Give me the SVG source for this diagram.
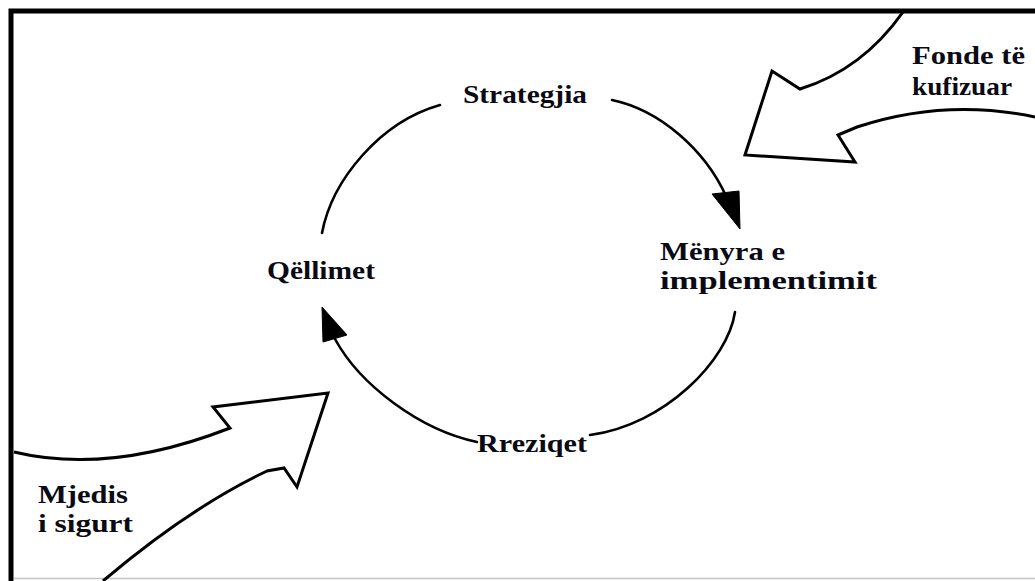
<svg xmlns="http://www.w3.org/2000/svg" width="1035" height="581" viewBox="0 0 1035 581">
<style>
.lbl{font-family:"Liberation Serif","Times New Roman",serif;font-weight:bold;font-size:25px;fill:#0a0a14}
.arc{fill:none;stroke:#000;stroke-width:2.6;stroke-linecap:round}
.big{fill:none;stroke:#000;stroke-width:3;stroke-linejoin:miter}
.head{fill:#000;stroke:#000;stroke-width:1;stroke-linejoin:round}
</style>
<rect width="1035" height="581" fill="#fff"/>
<g id="frame">
<path d="M11,581 V11 H1035" fill="none" stroke="#000" stroke-width="5"/>
<line x1="14" y1="578.5" x2="1035" y2="578.5" stroke="#c4c4c4" stroke-width="1.5"/>
</g>
<g id="connectors">
<path class="arc" d="M322,233 C332,180 380,122 440,105"/>
<path class="arc" d="M612,100 C660,110 705,150 726,196"/>
<polygon class="head" points="712,194 739,191 740,229"/>
<path class="arc" d="M735,312 C728,360 665,425 590,435"/>
<path class="arc" d="M477,442 C420,430 360,385 335,339"/>
<polygon class="head" points="322,307 323,342 347,335"/>
<path class="big" d="M903,12 Q862,70 800,89 L772,71 L745,155 L855,162 L838,135 L857,127 Q945,98 1035,117"/>
<path class="big" d="M14,452 Q110,475 230,428 L213,407 L328,393 L297,487 L284,468 L267,471 Q189,508 103,581"/>
</g>
<g id="node-strategjia"><text class="lbl" x="463" y="103" textLength="124" lengthAdjust="spacingAndGlyphs">Strategjia</text></g>
<g id="node-menyra"><text class="lbl" x="660" y="260" textLength="125" lengthAdjust="spacingAndGlyphs">Mënyra e</text><text class="lbl" x="660" y="289" textLength="217" lengthAdjust="spacingAndGlyphs">implementimit</text></g>
<g id="node-qellimet"><text class="lbl" x="267" y="279" textLength="108" lengthAdjust="spacingAndGlyphs">Qëllimet</text></g>
<g id="node-rreziqet"><text class="lbl" x="477" y="452" textLength="110" lengthAdjust="spacingAndGlyphs">Rreziqet</text></g>
<g id="node-fonde"><text class="lbl" x="912" y="64" textLength="113" lengthAdjust="spacingAndGlyphs">Fonde të</text><text class="lbl" x="912" y="95" textLength="100" lengthAdjust="spacingAndGlyphs">kufizuar</text></g>
<g id="node-mjedis"><text class="lbl" x="38" y="503" textLength="90" lengthAdjust="spacingAndGlyphs">Mjedis</text><text class="lbl" x="38" y="532" textLength="95" lengthAdjust="spacingAndGlyphs">i sigurt</text></g>
</svg>
